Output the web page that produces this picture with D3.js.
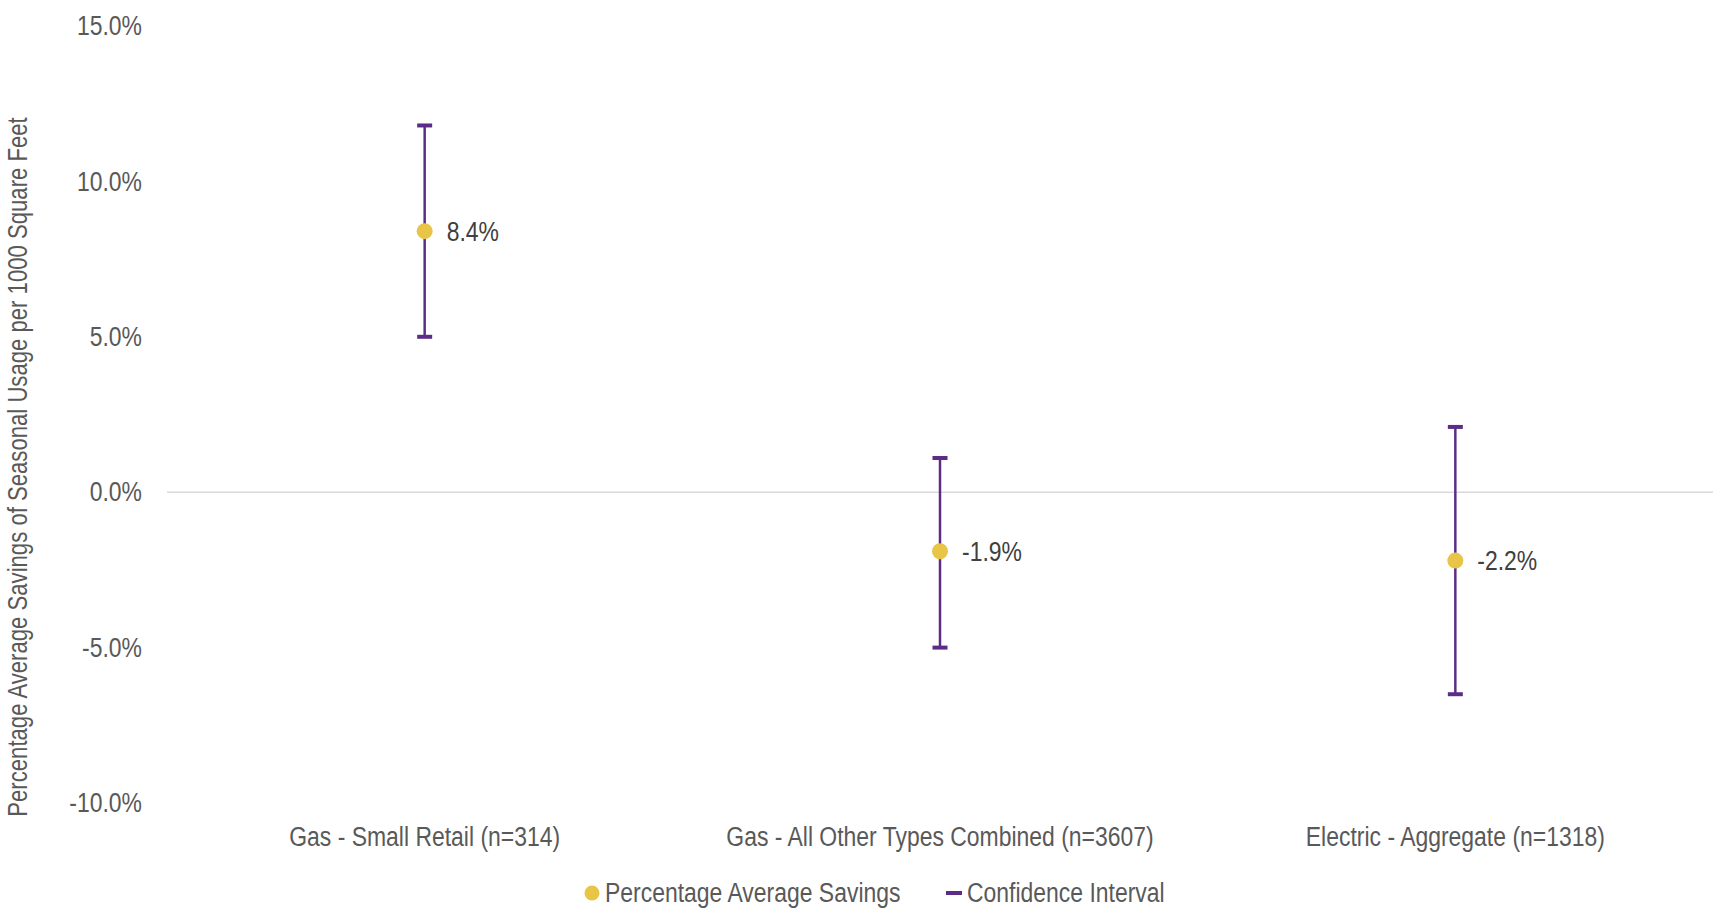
<!DOCTYPE html>
<html>
<head>
<meta charset="utf-8">
<script src="https://cdn.jsdelivr.net/npm/d3@7"></script>
<style>
  body { margin: 0; background: #fff; }
  svg text { font-family: "Liberation Sans", Arial, sans-serif; }
</style>
</head>
<body>
<div id="chart"></div>
<script>
// data
var categories = ["Gas - Small Retail (n=314)", "Gas - All Other Types Combined (n=3607)", "Electric - Aggregate (n=1318)"];
var savings = [8.4, -1.9, -2.2];
var ciLow = [5.0, -5.0, -6.5];
var ciHigh = [11.8, 1.1, 2.1];
var yTicks = [-10, -5, 0, 5, 10, 15];

var W = 1720, H = 916;
var margin = {top: 26, right: 7, bottom: 113, left: 167};

// squeeze text sideways (narrow face look)
function narrow(sel, k) {
  k = k || 0.85;
  sel.attr("transform", function(){
    var t = d3.select(this).attr("transform") || "";
    return t + " scale(" + k + ",1)";
  });
}

var svg = d3.select("#chart").append("svg")
  .attr("width", W)
  .attr("height", H);

var x = d3.scaleBand()
  .domain(categories)
  .range([margin.left, W - margin.right]);

var y = d3.scaleLinear()
  .domain([-10, 15])
  .range([H - margin.bottom, margin.top]);

// y tick labels
var yAxis = svg.append("g")
  .attr("transform", "translate(142,0)")
  .call(d3.axisLeft(y).tickValues(yTicks).tickSize(0).tickPadding(0)
    .tickFormat(function(d){ return d.toFixed(1) + "%"; }));
yAxis.select(".domain").remove();
yAxis.selectAll("text")
  .attr("font-size", "27px")
  .attr("fill", "#595959")
  .style("font-family", null)
  .call(narrow);

// zero line
svg.append("line")
  .attr("x1", margin.left)
  .attr("x2", W - margin.right)
  .attr("y1", y(0))
  .attr("y2", y(0))
  .attr("stroke", "#d9d9d9")
  .attr("stroke-width", 1.5);

// x category labels
var xAxis = svg.append("g")
  .attr("transform", "translate(0," + (H - margin.bottom) + ")")
  .call(d3.axisBottom(x).tickSize(0).tickPadding(24));
xAxis.select(".domain").remove();
xAxis.selectAll("text")
  .attr("font-size", "27px")
  .attr("fill", "#595959")
  .style("font-family", null)
  .call(narrow);

// y axis title
svg.append("text")
  .attr("transform", "translate(27,467) rotate(-90)")
  .attr("text-anchor", "middle")
  .attr("font-size", "27px")
  .attr("fill", "#595959")
  .text("Percentage Average Savings of Seasonal Usage per 1000 Square Feet")
  .call(narrow, 0.82);

var purple = "#5c2d86";
var gold = "#e8c547";
var capW = 15;

var g = svg.append("g");
categories.forEach(function(c, i){
  var cx = x(c) + x.bandwidth() / 2;
  g.append("line")
    .attr("x1", cx).attr("x2", cx)
    .attr("y1", y(ciHigh[i])).attr("y2", y(ciLow[i]))
    .attr("stroke", purple).attr("stroke-width", 2.5);
  [ciHigh[i], ciLow[i]].forEach(function(v){
    g.append("line")
      .attr("x1", cx - capW / 2).attr("x2", cx + capW / 2)
      .attr("y1", y(v)).attr("y2", y(v))
      .attr("stroke", purple).attr("stroke-width", 4);
  });
  g.append("circle")
    .attr("cx", cx).attr("cy", y(savings[i]))
    .attr("r", 8)
    .attr("fill", gold);
  g.append("text")
    .attr("transform", "translate(" + (cx + 22) + "," + y(savings[i]) + ")")
    .attr("dy", "0.35em")
    .attr("font-size", "27px")
    .attr("fill", "#404040")
    .text(savings[i].toFixed(1) + "%")
    .call(narrow);
});

// legend
var leg = svg.append("g").attr("transform", "translate(0,893)");
leg.append("circle").attr("cx", 592).attr("cy", 0).attr("r", 7.5).attr("fill", gold);
leg.append("text").attr("transform", "translate(605,0)").attr("dy", "0.35em")
  .attr("font-size", "27px").attr("fill", "#595959").text("Percentage Average Savings")
  .call(narrow);
leg.append("line").attr("x1", 946).attr("x2", 962).attr("y1", 0).attr("y2", 0)
  .attr("stroke", purple).attr("stroke-width", 4);
leg.append("text").attr("transform", "translate(967,0)").attr("dy", "0.35em")
  .attr("font-size", "27px").attr("fill", "#595959").text("Confidence Interval")
  .call(narrow);
</script>
</body>
</html>
